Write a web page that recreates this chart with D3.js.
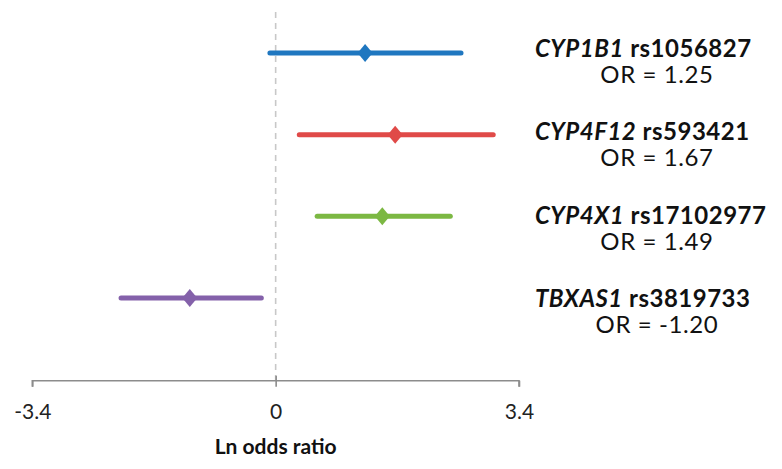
<!DOCTYPE html>
<html>
<head>
<meta charset="utf-8">
<script src="https://cdn.jsdelivr.net/npm/d3@7"></script>
<style>
  html, body { margin: 0; padding: 0; background: #fff; }
  svg { display: block; font-family: Lato, "Open Sans", sans-serif; }
</style>
</head>
<body>
<svg id="chart" width="782" height="469"></svg>
<script>
// ---- data ----
const genes   = ["CYP1B1", "CYP4F12", "CYP4X1", "TBXAS1"];
const snps    = ["rs1056827", "rs593421", "rs17102977", "rs3819733"];
const orText  = ["1.25", "1.67", "1.49", "-1.20"];
const estimate = [1.25, 1.67, 1.49, -1.20];
const lower    = [-0.08, 0.33, 0.58, -2.16];
const upper    = [2.59, 3.04, 2.44, -0.20];
const colors   = ["#1f77c0", "#e04a48", "#7cb843", "#8461aa"];
const xTicks   = [-3.4, 0, 3.4];
const xTickLabels = ["-3.4", "0", "3.4"];
const xTitle   = "Ln odds ratio";

const svg = d3.select("#chart");

const x = d3.scaleLinear().domain([-3.4, 3.4]).range([32.3, 519]);
const y = d3.scalePoint().domain(genes).range([53, 298]);
const yLab = d3.scalePoint().domain(genes).range([57, 307]);

const axisY = 380.7;

// zero reference line
svg.append("line")
  .attr("x1", x(0)).attr("x2", x(0))
  .attr("y1", 12).attr("y2", axisY)
  .attr("stroke", "#c8c8c8").attr("stroke-width", 1.6)
  .attr("stroke-dasharray", "6,5");

// axis
const axis = d3.axisBottom(x).tickValues(xTicks).tickSize(6).tickPadding(14)
  .tickFormat((d, i) => xTickLabels[i]);
const gAxis = svg.append("g").attr("transform", `translate(0,${axisY})`).call(axis);
gAxis.select(".domain").attr("stroke", "#8c8c8c").attr("stroke-width", 1.6)
  .attr("d", `M${x(-3.4)},6V0H${x(3.4)}V6`);
gAxis.selectAll(".tick line").attr("stroke", "#8c8c8c").attr("stroke-width", 1.6);
gAxis.selectAll(".tick").filter(d => d === 0).select("line").attr("y1", -5);
gAxis.selectAll(".tick text")
  .attr("fill", "#222").attr("font-size", 21).attr("font-family", "Lato, sans-serif")
  .attr("dy", null).attr("y", 419 - axisY);

svg.append("text")
  .attr("x", x(0)).attr("y", 454)
  .attr("text-anchor", "middle")
  .attr("font-weight", "bold").attr("font-size", 21).attr("fill", "#111")
  .text(xTitle);

// CI lines and diamonds
const rows = genes.map((g, i) => ({ g, i }));
svg.selectAll("line.ci").data(rows).join("line")
  .attr("class", "ci")
  .attr("x1", d => x(lower[d.i])).attr("x2", d => x(upper[d.i]))
  .attr("y1", d => y(d.g)).attr("y2", d => y(d.g))
  .attr("stroke", d => colors[d.i]).attr("stroke-width", 5)
  .attr("stroke-linecap", "round");

const hw = 7.5, hh = 9;
svg.selectAll("path.pt").data(rows).join("path")
  .attr("class", "pt")
  .attr("d", d => {
    const cx = x(estimate[d.i]), cy = y(d.g);
    return `M${cx},${cy - hh}L${cx + hw},${cy}L${cx},${cy + hh}L${cx - hw},${cy}Z`;
  })
  .attr("fill", d => colors[d.i]);

// labels
const lab = svg.selectAll("g.lab").data(rows).join("g").attr("class", "lab");
const t1 = lab.append("text")
  .attr("x", 535).attr("y", d => yLab(d.g))
  .attr("font-weight", "bold").attr("font-size", 24).attr("letter-spacing", 0.5)
  .attr("fill", "#111");
t1.append("tspan").attr("font-style", "italic").text(d => d.g);
t1.append("tspan").text(d => " " + snps[d.i]);
lab.append("text")
  .attr("x", 657).attr("y", d => yLab(d.g) + 26)
  .attr("text-anchor", "middle")
  .attr("font-size", 24).attr("letter-spacing", 0.6).attr("fill", "#111")
  .text(d => "OR = " + orText[d.i]);
</script>
</body>
</html>
